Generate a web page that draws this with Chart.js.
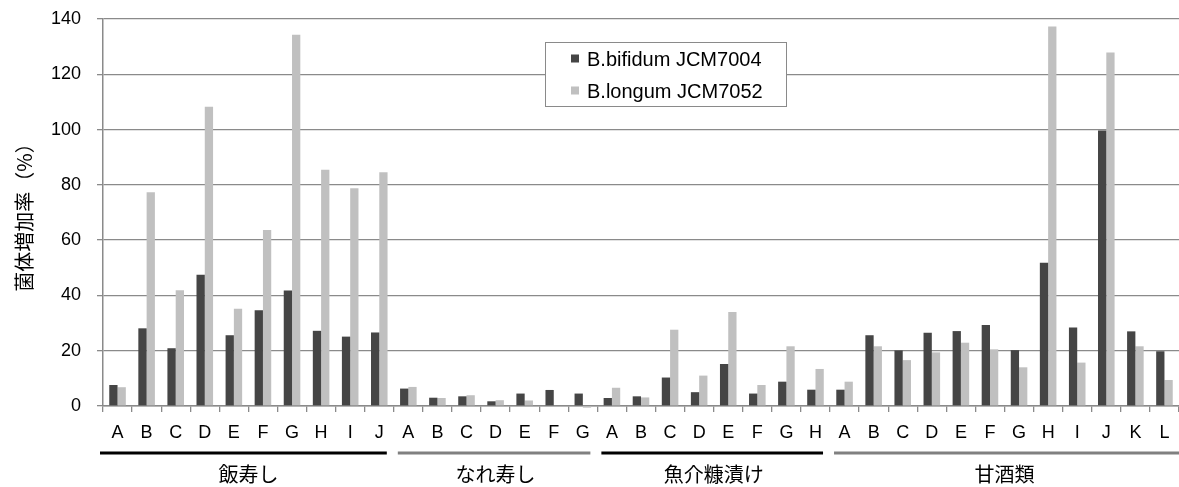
<!DOCTYPE html>
<html>
<head>
<meta charset="utf-8">
<script src="https://cdn.jsdelivr.net/npm/chart.js@4/dist/chart.umd.min.js"></script>
<style>
  html, body { margin: 0; padding: 0; background: #fff; }
  #wrap { width: 1179px; height: 487px; position: relative; }
</style>
</head>
<body>
<div id="wrap"><canvas id="c" width="1179" height="487"></canvas></div>
<script>
// ---- data ----
const groupNames = ['飯寿し', 'なれ寿し', '魚介糠漬け', '甘酒類'];
const groupLetters = [
  ['A','B','C','D','E','F','G','H','I','J'],
  ['A','B','C','D','E','F','G'],
  ['A','B','C','D','E','F','G','H'],
  ['A','B','C','D','E','F','G','H','I','J','K','L']
];
const categories = groupLetters.flat();
const seriesNames = ['B.bifidum JCM7004', 'B.longum JCM7052'];
const bifidum = [
  7.6, 28.1, 20.9, 47.5, 25.6, 34.6, 41.8, 27.2, 25.1, 26.6,
  6.3, 3.0, 3.5, 1.7, 4.5, 5.8, 4.5,
  2.9, 3.5, 10.3, 5.0, 15.2, 4.5, 8.8, 5.9,
  5.9, 25.6, 20.1, 26.5, 27.1, 29.3, 20.2, 51.8, 28.4, 99.7, 27.0, 19.8
];
const longum = [
  6.8, 77.3, 41.9, 108.3, 35.2, 63.7, 134.3, 85.5, 78.8, 84.6,
  6.9, 2.9, 3.9, 2.1, 2.0, 0, -0.6,
  6.6, 3.1, 27.6, 11.0, 34.0, 7.6, 21.6, 13.4,
  8.8, 21.6, 16.6, 19.4, 22.9, 20.5, 14.0, 137.3, 15.7, 127.9, 21.6, 9.4
];
const yTicks = [0, 20, 40, 60, 80, 100, 120, 140];
const yTitle = '菌体増加率（%）';

// ---- styles ----
const DARK = '#454545';
const LIGHT = '#c0c0c0';
const GRID = '#8a8a8a';
const LATIN = '"Liberation Sans", Arial, sans-serif';
const CJK = '"Noto Sans CJK JP", sans-serif';

const groupPlugin = {
  id: 'groups',
  afterDraw(chart) {
    const ctx = chart.ctx;
    const xs = chart.scales.x;
    const half = (xs.getPixelForValue(1) - xs.getPixelForValue(0)) / 2;
    const colors = ['#000000', '#808080', '#000000', '#808080'];
    let start = 0;
    ctx.save();
    groupLetters.forEach((letters, gi) => {
      const end = start + letters.length - 1;
      const left = xs.getPixelForValue(start) - half;
      const right = xs.getPixelForValue(end) + half;
      const lx0 = gi === 0 ? left - 3 : left + 4;
      const lx1 = gi === groupLetters.length - 1 ? chart.width : right - 7;
      ctx.strokeStyle = colors[gi];
      ctx.lineWidth = 3;
      ctx.beginPath();
      ctx.moveTo(lx0, 453);
      ctx.lineTo(lx1, 453);
      ctx.stroke();
      ctx.fillStyle = '#000';
      ctx.font = '20px ' + CJK;
      ctx.textAlign = 'center';
      ctx.textBaseline = 'middle';
      ctx.fillText(groupNames[gi], (left + right) / 2, 474);
      start = end + 1;
    });
    ctx.restore();
  }
};

const legendPlugin = {
  id: 'boxLegend',
  afterDraw(chart) {
    const ctx = chart.ctx;
    ctx.save();
    ctx.fillStyle = '#fff';
    ctx.fillRect(545.5, 42.5, 241, 64);
    ctx.strokeStyle = '#8a8a8a';
    ctx.lineWidth = 1;
    ctx.strokeRect(545.5, 42.5, 241, 64);
    ctx.font = '20px ' + LATIN;
    ctx.textBaseline = 'middle';
    ctx.textAlign = 'left';
    chart.data.datasets.forEach((ds, i) => {
      const cy = 59 + i * 32;
      ctx.fillStyle = ds.backgroundColor;
      ctx.fillRect(571, cy - 4.5, 8, 8);
      ctx.fillStyle = '#000';
      ctx.fillText(ds.label, 587, cy + 1);
    });
    ctx.restore();
  }
};

new Chart(document.getElementById('c'), {
  type: 'bar',
  data: {
    labels: categories,
    datasets: [
      { label: seriesNames[0], data: bifidum, backgroundColor: DARK, borderWidth: 0, clip: false },
      { label: seriesNames[1], data: longum, backgroundColor: LIGHT, borderWidth: 0, clip: false }
    ]
  },
  options: {
    responsive: false,
    animation: false,
    devicePixelRatio: 1,
    layout: { padding: { top: 19, right: 0, left: 0, bottom: 0 } },
    datasets: { bar: { categoryPercentage: 0.57, barPercentage: 1.0 } },
    plugins: {
      legend: { display: false },
      tooltip: { enabled: false }
    },
    scales: {
      x: {
        offset: true,
        grid: { display: true, offset: true, drawOnChartArea: false, drawTicks: true, tickLength: 6, color: GRID, lineWidth: 1.3 },
        border: { display: true, color: GRID, width: 1.5 },
        ticks: { color: '#000', font: { family: LATIN, size: 18 }, padding: 10, maxRotation: 0, autoSkip: false },
        afterFit(scale) { scale.height = 81; scale.paddingLeft = 0; scale.paddingRight = 0; }
      },
      y: {
        min: 0,
        max: 140,
        afterBuildTicks(scale) { scale.ticks = yTicks.map(v => ({ value: v })); },
        grid: { color: GRID, lineWidth: 1.3, tickLength: 6 },
        border: { display: true, color: GRID, width: 1.5 },
        ticks: { color: '#000', font: { family: LATIN, size: 18 }, padding: 16 },
        title: { display: true, text: yTitle, color: '#000', font: { family: CJK, size: 20 }, padding: { top: 12, bottom: 0 } },
        afterFit(scale) { scale.width = 103; scale.paddingTop = 0; scale.paddingBottom = 0; }
      }
    }
  },
  plugins: [groupPlugin, legendPlugin]
});
</script>
</body>
</html>
